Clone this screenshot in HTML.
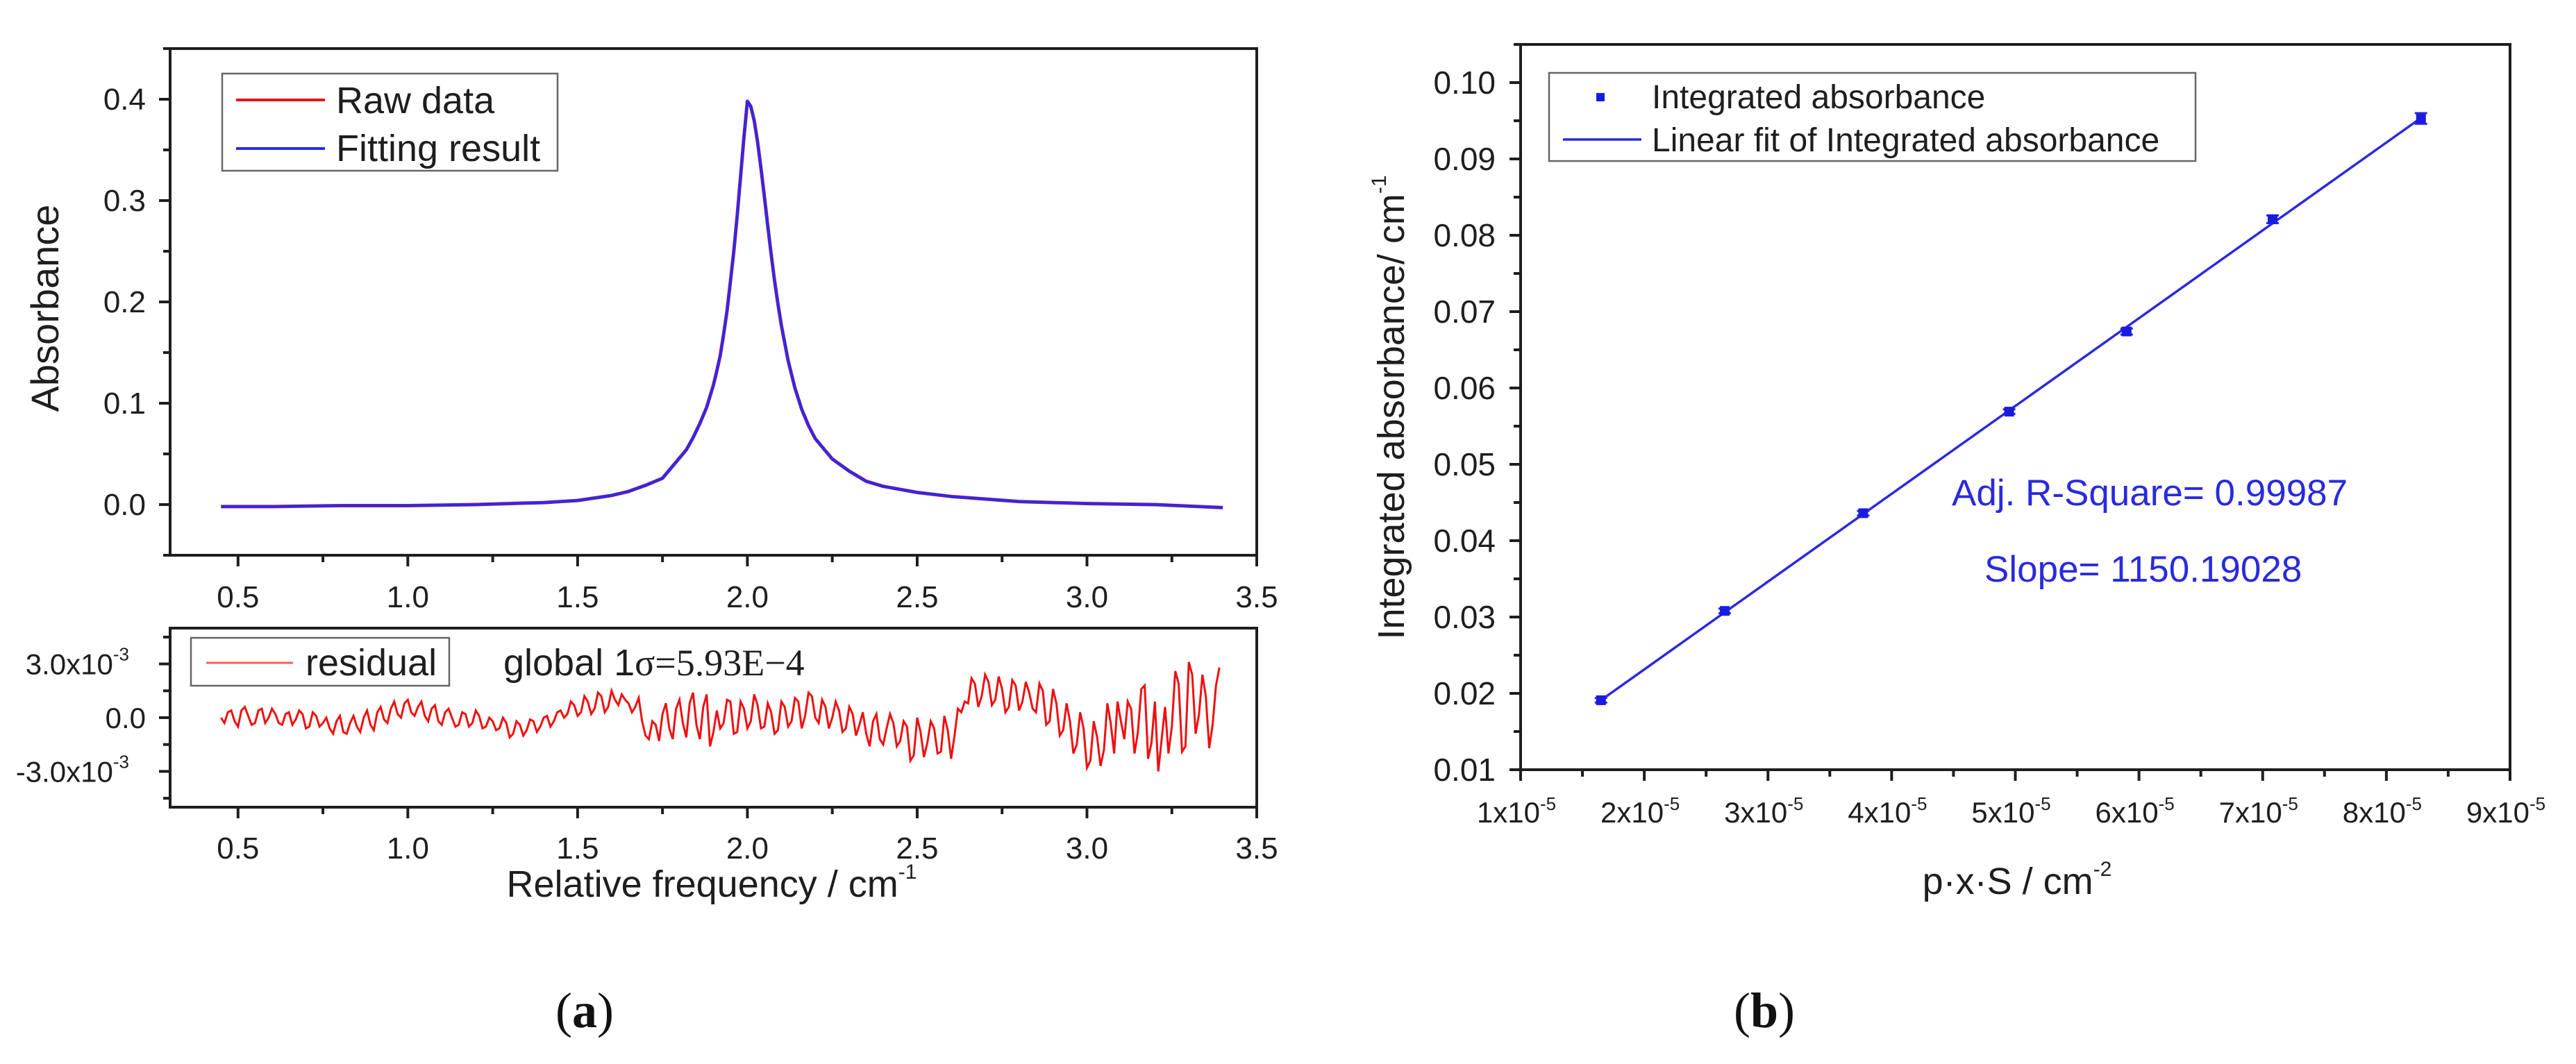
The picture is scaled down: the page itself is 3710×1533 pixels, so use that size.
<!DOCTYPE html>
<html><head><meta charset="utf-8"><style>
html,body{margin:0;padding:0;background:#fff;}
svg{display:block;font-family:"Liberation Sans",sans-serif;}
</style></head><body>
<svg id="fig" width="3710" height="1533" viewBox="0 0 3710 1533" xmlns="http://www.w3.org/2000/svg">
<g id="ga"></g>
<g id="gb"></g>
</svg>
<script>
// ---- Panel (a) data ----
const specX = [0.45,0.6,0.8,1.0,1.2,1.4,1.5,1.6,1.65,1.7,1.75,1.8,1.82,1.84,1.86,1.88,1.9,1.91,1.92,1.93,1.94,1.95,1.96,1.97,1.98,1.99,2.0,2.01,2.02,2.03,2.04,2.05,2.06,2.07,2.08,2.09,2.1,2.12,2.14,2.16,2.18,2.2,2.25,2.3,2.35,2.4,2.5,2.6,2.8,3.0,3.2,3.4];
const specY = [-0.002,-0.002,-0.001,-0.001,0.0,0.002,0.004,0.009,0.013,0.019,0.026,0.046,0.054,0.066,0.080,0.096,0.118,0.132,0.147,0.168,0.191,0.220,0.250,0.285,0.324,0.363,0.398,0.393,0.379,0.358,0.332,0.304,0.275,0.247,0.221,0.198,0.177,0.142,0.115,0.094,0.078,0.065,0.045,0.033,0.023,0.018,0.012,0.008,0.003,0.001,0.0,-0.003];
const resStart = [0.45];
const resStep = [0.02];
const resVals = [0.0,0.3,-0.2,0.4,0.1,-0.3,0.5,0.0,0.2,-0.4,
0.3,-0.1,0.2,-0.5,0.1,-0.3,-0.6,-0.2,-0.8,-0.3,
-0.5,0.0,-0.4,0.3,-0.1,0.5,0.2,0.8,0.3,0.6,
0.1,0.5,-0.2,0.3,0.0,-0.4,0.2,-0.3,0.1,-0.5,
-0.2,-0.6,-0.3,-0.9,-0.4,-0.7,-0.2,-0.5,0.1,-0.2,
0.4,0.2,0.7,0.3,0.9,0.5,1.2,0.6,1.0,1.3,
0.8,0.6,-0.2,-1.2,-0.4,0.2,-0.6,0.5,-0.3,0.8,
-0.4,0.6,-1.6,0.4,-0.3,0.9,-0.8,0.5,-0.2,0.7,
-0.5,0.3,-0.7,0.6,-0.2,0.9,0.1,1.2,-0.3,0.6,
0.0,0.4,-0.6,0.2,-0.4,-0.9,-0.2,-1.2,-0.6,-0.3,
-1.3,-0.5,-2.1,-0.8,-1.4,-0.6,-1.9,-0.7,-1.0,0.3,
0.8,1.9,1.2,2.0,1.0,1.6,0.6,1.8,0.9,1.4,
0.3,1.5,-0.2,0.8,-0.7,-0.2,-1.5,-0.6,-2.4,-1.1,
-1.8,-0.3,0.9,-1.2,0.5,-0.8,1.8,-1.4,-3.0,0.6,
-0.5,1.9,-1.6,2.4,0.2,1.2,-0.4,2.8];
const resMid = [-0.3,0.4,-0.5,0.6,-0.4,0.4,-0.3,0.5,-0.3,0.2,
-0.4,0.4,-0.6,0.3,-0.5,0.0,-0.9,0.1,-0.9,0.1,
-0.8,0.4,-0.7,0.6,-0.3,0.9,0.0,1.0,0.1,0.9,
-0.2,0.7,-0.4,0.5,-0.5,0.3,-0.5,0.4,-0.6,0.0,
-0.7,0.0,-1.1,-0.2,-1.0,-0.1,-0.8,0.0,-0.5,0.3,
0.0,0.9,0.1,1.2,0.2,1.4,0.3,1.5,0.7,1.0,
0.3,1.1,-1.0,-0.2,-1.3,0.8,-1.2,1.0,-1.1,1.4,
-1.2,1.3,-0.8,-0.6,1.0,-0.9,0.9,-0.6,1.3,-0.6,
0.8,-0.9,0.9,-0.5,1.1,-0.6,1.4,0.0,1.0,-0.6,
0.9,-0.8,0.6,-1.0,0.3,-1.6,0.2,-1.5,0.2,-1.6,
-0.2,-2.4,0.0,-2.2,-0.2,-2.0,0.1,-2.3,0.5,0.9,
2.2,0.6,2.4,0.7,2.3,0.3,2.1,0.4,2.0,0.5,
1.9,-0.4,1.6,-1.0,0.8,-2.0,0.3,-2.8,-0.2,-2.7,
0.8,-2.0,-0.2,0.9,-2.0,1.6,-2.3,0.9,-1.2,-2.0,
2.6,-1.9,3.1,-0.9,2.4,-1.7,1.8];
const aXTicks = [0.5,1.0,1.5,2.0,2.5,3.0,3.5];
const aXTickLabels = ["0.5","1.0","1.5","2.0","2.5","3.0","3.5"];
const aYTicks = [0.0,0.1,0.2,0.3,0.4];
const aYTickLabels = ["0.0","0.1","0.2","0.3","0.4"];
const rYTicks = [-3,0,3];
// ---- Panel (b) data ----
const bX = [1.65,2.65,3.77,4.95,5.9,7.08,8.28];
const bY = [0.0191,0.0308,0.0436,0.0569,0.0674,0.0821,0.0953];
const bErr = [0.0003,0.0003,0.0003,0.0003,0.0004,0.0005,0.0007];
const bSlope = [1150.19028];
const bXTicks = [1,2,3,4,5,6,7,8,9];
const bYTicks = [0.01,0.02,0.03,0.04,0.05,0.06,0.07,0.08,0.09,0.10];
const bYTickLabels = ["0.01","0.02","0.03","0.04","0.05","0.06","0.07","0.08","0.09","0.10"];

const NS="http://www.w3.org/2000/svg";
function mk(parent,tag,attrs,text){const e=document.createElementNS(NS,tag);for(const k in attrs)e.setAttribute(k,attrs[k]);if(text!==undefined)e.textContent=text;parent.appendChild(e);return e;}
const INK='#1e1e1e';

// ===== Panel a =====
const ga=document.getElementById('ga');
const AL=245,AR=1810,AT=70,AB=800,RT=905,RB=1163;
const ax=v=>AL+(v-0.3)/3.2*(AR-AL);
const ay=v=>AT+(0.45-v)/0.5*(AB-AT);
const ry=v=>RT+(5-v)/10*(RB-RT);

let fa=mk(ga,'rect',{x:AL,y:AT,width:AR-AL,height:AB-AT,fill:'none',stroke:INK,'stroke-width':4});

let fr=mk(ga,'rect',{x:AL,y:RT,width:AR-AL,height:RB-RT,fill:'none',stroke:INK,'stroke-width':4});


[[AB,875],[RB,1237]].forEach(([base,ly],k)=>{
  for(let v=0.5;v<=3.5001;v+=0.25){
    const major=Math.abs(v*2-Math.round(v*2))<1e-6;
    mk(ga,'line',{x1:ax(v),x2:ax(v),y1:base,y2:base+(major?16:10),stroke:INK,'stroke-width':4});
  }
  aXTicks.forEach((v,i)=>{
    const t=mk(ga,'text',{x:ax(v),y:ly,'font-size':44,'text-anchor':'middle',fill:INK},aXTickLabels[i]);
    
    
  });
});
for(let v=-0.05;v<=0.4501;v+=0.05){
  const major=Math.abs(v*10-Math.round(v*10))<1e-6;
  mk(ga,'line',{x1:AL,x2:major?AL-16:AL-10,y1:ay(v),y2:ay(v),stroke:INK,'stroke-width':4});
}
aYTicks.forEach((v,i)=>{
  const t=mk(ga,'text',{x:210,y:ay(v)+15,'font-size':44,'text-anchor':'end',fill:INK},aYTickLabels[i]);
  
  
});
for(let v=-4.5;v<=4.5;v+=1.5){mk(ga,'line',{x1:AL,x2:Math.abs(v%3)<1e-6?AL-16:AL-10,y1:ry(v),y2:ry(v),stroke:INK,'stroke-width':4});}
rYTicks.forEach(v=>{
  const t=mk(ga,'text',{x:v===0?210:186,y:ry(v)+15,'font-size':42,'text-anchor':'end',fill:INK});
  
  
  if(v===0){t.textContent='0.0';}else{
    t.appendChild(document.createTextNode((v<0?'-':'')+Math.abs(v).toFixed(1)+'x10'));
    mk(t,'tspan',{dy:-20,'font-size':26},'-3');
  }
});
let yt=mk(ga,'text',{x:84,y:444,'font-size':56,'text-anchor':'middle',transform:'rotate(-90 84 444)',fill:INK},'Absorbance');

let xt=mk(ga,'text',{x:1025,y:1292,'font-size':54,'text-anchor':'middle',fill:INK});
xt.appendChild(document.createTextNode('Relative frequency / cm'));mk(xt,'tspan',{dy:-26,'font-size':30},'-1');


const ptsS=specX.map((x,i)=>ax(x)+','+ay(specY[i])).join(' ');
let raw=mk(ga,'polyline',{points:ptsS,fill:'none',stroke:'#e01818','stroke-width':5,'stroke-linejoin':'round'});

let fit=mk(ga,'polyline',{points:ptsS,fill:'none',stroke:'#2a2aee','stroke-width':4,'stroke-linejoin':'round'});

const rpts=[];
resVals.forEach((v,i)=>{
  rpts.push(ax(resStart[0]+i*resStep[0])+','+ry(v));
  if(i<resMid.length) rpts.push(ax(resStart[0]+(i+0.5)*resStep[0])+','+ry(resMid[i]));
});
let res=mk(ga,'polyline',{points:rpts.join(' '),fill:'none',stroke:'#ee1010','stroke-width':3});


let lg=mk(ga,'g',{});
mk(lg,'rect',{x:320,y:106,width:483,height:140,fill:'#fff',stroke:'#666','stroke-width':2.5});
mk(lg,'line',{x1:340,x2:468,y1:144,y2:144,stroke:'#e01818','stroke-width':4});
mk(lg,'text',{x:484,y:163,'font-size':54,fill:INK},'Raw data');
mk(lg,'line',{x1:340,x2:468,y1:214,y2:214,stroke:'#2a2aee','stroke-width':4});
mk(lg,'text',{x:484,y:232,'font-size':54,fill:INK},'Fitting result');
let lr=mk(ga,'g',{});
mk(lr,'rect',{x:275,y:919,width:372,height:69,fill:'#fff',stroke:'#666','stroke-width':2.5});
mk(lr,'line',{x1:297,x2:422,y1:955,y2:955,stroke:'#f06060','stroke-width':3});
mk(lr,'text',{x:440,y:973,'font-size':54,fill:INK},'residual');
let gs=mk(ga,'text',{x:725,y:973,'font-size':54,fill:INK});
gs.appendChild(document.createTextNode('global 1'));
mk(gs,'tspan',{'font-family':'"Liberation Serif",serif'},'σ=5.93E−4');

let ca=mk(ga,'text',{x:842,y:1480,'font-size':72,'text-anchor':'middle','font-family':'"Liberation Serif",serif',fill:'#111'});
ca.appendChild(document.createTextNode('('));mk(ca,'tspan',{'font-weight':'bold'},'a');ca.appendChild(document.createTextNode(')'));


// ===== Panel b =====
const gb=document.getElementById('gb');
const BL=2190,BR=3615,BT=64,BB=1109;
const bx=v=>BL+(v-1)/8*(BR-BL);
const by=v=>BT+(0.105-v)/0.095*(BB-BT);
let fb=mk(gb,'rect',{x:BL,y:BT,width:BR-BL,height:BB-BT,fill:'none',stroke:INK,'stroke-width':4});

for(let v=1;v<=9.0001;v+=0.5){
  const major=Math.abs(v-Math.round(v))<1e-6;
  mk(gb,'line',{x1:bx(v),x2:bx(v),y1:BB,y2:BB+(major?16:10),stroke:INK,'stroke-width':4});
}
bXTicks.forEach(v=>{
  const t=mk(gb,'text',{x:bx(v)-6,y:1185,'font-size':42,'text-anchor':'middle',fill:INK});
  t.appendChild(document.createTextNode(v+'x10'));mk(t,'tspan',{dy:-18,'font-size':26},'-5');
  
});
for(let v=0.01;v<=0.1051;v+=0.005){
  const major=Math.abs(v*100-Math.round(v*100))<1e-6;
  mk(gb,'line',{x1:BL,x2:major?BL-16:BL-10,y1:by(v),y2:by(v),stroke:INK,'stroke-width':4});
}
bYTicks.forEach((v,i)=>{
  const t=mk(gb,'text',{x:2154,y:by(v)+16,'font-size':46,'text-anchor':'end',fill:INK},bYTickLabels[i]);
  
});
let byt=mk(gb,'text',{x:2022,y:587,'font-size':54,'text-anchor':'middle',transform:'rotate(-90 2022 587)',fill:INK});
byt.appendChild(document.createTextNode('Integrated absorbance/ cm'));mk(byt,'tspan',{dy:-26,'font-size':30},'-1');

let bxt=mk(gb,'text',{x:2905,y:1288,'font-size':54,'text-anchor':'middle',fill:INK});
bxt.appendChild(document.createTextNode('p·x·S / cm'));mk(bxt,'tspan',{dy:-26,'font-size':30},'-2');


const x0=bX[0],x1=bX[bX.length-1];
let mx=0,my=0;bX.forEach((x,i)=>{mx+=x;my+=bY[i];});mx/=bX.length;my/=bY.length;
const fitY=x=>my+bSlope[0]*(x-mx)*1e-5;
let ln=mk(gb,'line',{x1:bx(x0),y1:by(fitY(x0)),x2:bx(x1),y2:by(fitY(x1)),stroke:'#2a2add','stroke-width':3.5});

bX.forEach((x,i)=>{
  const g=mk(gb,'g',{});
  
  
  const cx=bx(x),t=by(bY[i]+bErr[i]),b=by(bY[i]-bErr[i]);
  mk(g,'line',{x1:cx,x2:cx,y1:t,y2:b,stroke:'#2a2add','stroke-width':3});
  mk(g,'line',{x1:cx-9,x2:cx+9,y1:t,y2:t,stroke:'#2a2add','stroke-width':3});
  mk(g,'line',{x1:cx-9,x2:cx+9,y1:b,y2:b,stroke:'#2a2add','stroke-width':3});
  mk(g,'rect',{x:cx-7,y:by(bY[i])-7,width:14,height:14,fill:'#1a1ae0'});
});
let lb=mk(gb,'g',{});
mk(lb,'rect',{x:2231,y:105,width:931,height:127,fill:'#fff',stroke:'#666','stroke-width':2.5});
mk(lb,'rect',{x:2299,y:134,width:12,height:12,fill:'#1a1ae0'});
mk(lb,'text',{x:2379,y:156,'font-size':48,fill:INK},'Integrated absorbance');
mk(lb,'line',{x1:2251,x2:2364,y1:201,y2:201,stroke:'#2a2add','stroke-width':3.5});
mk(lb,'text',{x:2379,y:218,'font-size':48,fill:INK},'Linear fit of Integrated absorbance');
let an1=mk(gb,'text',{x:2811,y:728,'font-size':53,fill:'#2a2add'},'Adj. R-Square= 0.99987');

let an2=mk(gb,'text',{x:2858,y:838,'font-size':53,fill:'#2a2add'},'Slope= '+bSlope[0].toFixed(5));

let cb=mk(gb,'text',{x:2541,y:1480,'font-size':72,'text-anchor':'middle','font-family':'"Liberation Serif",serif',fill:'#111'});
cb.appendChild(document.createTextNode('('));mk(cb,'tspan',{'font-weight':'bold'},'b');cb.appendChild(document.createTextNode(')'));

</script>
</body></html>
